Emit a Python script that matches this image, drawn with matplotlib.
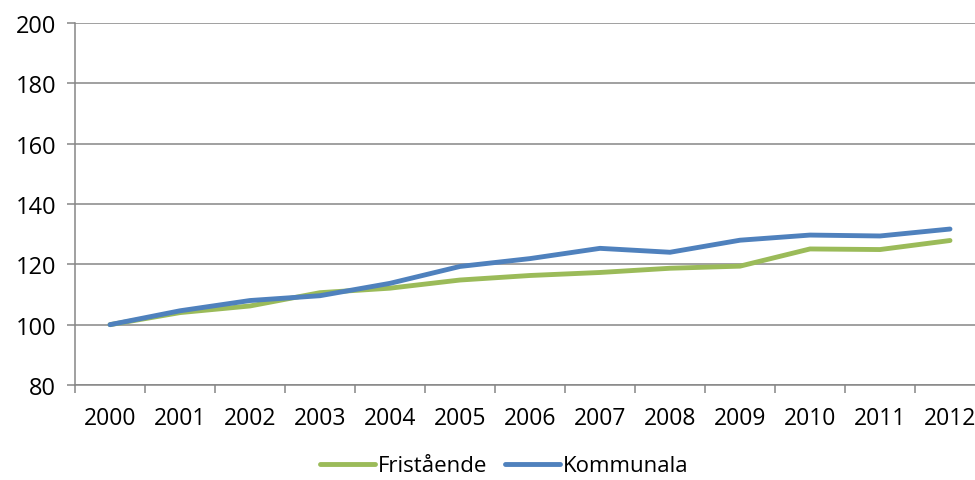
import matplotlib.pyplot as plt
import numpy as np

years = ['2000', '2001', '2002', '2003', '2004', '2005', '2006',
         '2007', '2008', '2009', '2010', '2011', '2012']
fristaende = [100, 104.0, 106.2, 110.6, 112.1, 114.8, 116.3,
              117.3, 118.7, 119.4, 125.1, 124.9, 127.9]
kommunala = [100, 104.6, 108.0, 109.6, 113.7, 119.3, 121.9,
             125.3, 124.0, 128.0, 129.7, 129.4, 131.7]

plt.rcParams['font.family'] = ['Open Sans', 'DejaVu Sans']

fig = plt.figure(figsize=(9.75, 4.81), dpi=100)
ax = fig.add_axes([75 / 975, 1 - 386 / 481, 910 / 975, 362 / 481])

x = np.arange(len(years))
grey = '#868686'
for v in range(80, 201, 20):
    ax.axhline(v, color=grey, lw=1.1, zorder=1)

ax.plot(x, fristaende, color='#9BBB59', lw=3.5, solid_capstyle='round',
        solid_joinstyle='round', label='Fristående', zorder=3)
ax.plot(x, kommunala, color='#4F81BD', lw=3.5, solid_capstyle='round',
        solid_joinstyle='round', label='Kommunala', zorder=4)

ax.set_xlim(-0.5, 12.5)
ax.set_ylim(80, 200)
ax.set_yticks(range(80, 201, 20))
ax.set_xticks(x)
ax.set_xticklabels(years)
ax.set_xticks(np.arange(-0.5, 12.6, 1), minor=True)
ax.tick_params(axis='x', which='major', length=0, pad=15, labelsize=16.5)
ax.tick_params(axis='x', which='minor', length=6, width=1.1, color=grey)
ax.tick_params(axis='y', length=6, width=1.1, color=grey, pad=7.5, labelsize=17)

for s in ['top', 'right']:
    ax.spines[s].set_visible(False)
ax.spines['left'].set_color(grey)
ax.spines['left'].set_linewidth(1.1)
ax.spines['bottom'].set_color(grey)
ax.spines['bottom'].set_linewidth(1.1)

fig.legend(loc='center', bbox_to_anchor=(504 / 975, 1 - 467 / 481), ncol=2,
           frameon=False, fontsize=16, handlelength=2.5, handletextpad=0.1,
           columnspacing=0.8)

fig.savefig('out.png', dpi=100)
